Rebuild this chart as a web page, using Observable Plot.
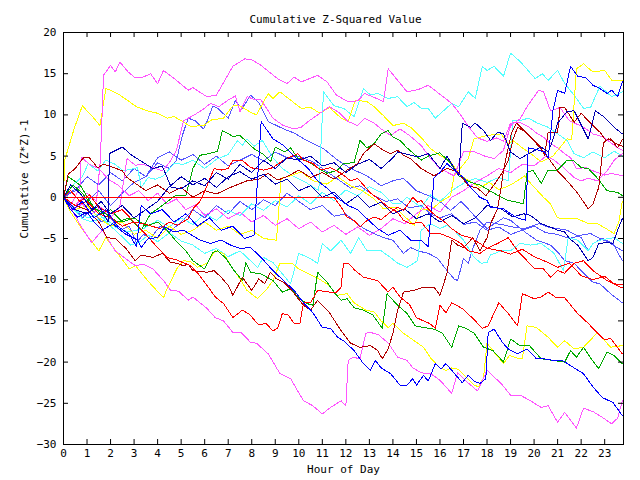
<!DOCTYPE html>
<html>
<head>
<meta charset="utf-8">
<script src="https://cdn.jsdelivr.net/npm/d3@7"></script>
<script src="https://cdn.jsdelivr.net/npm/@observablehq/plot@0.6"></script>
<style>
  html, body { margin: 0; padding: 0; background: #fff; }
  svg path { shape-rendering: crispEdges; }
</style>
</head>
<body>
<div id="chart"></div>
<script>
const title = "Cumulative Z-Squared Value";
const xLabel = "Hour of Day";
const yLabel = "Cumulative (Z*Z)-1";
const xTicks = [0,1,2,3,4,5,6,7,8,9,10,11,12,13,14,15,16,17,18,19,20,21,22,23];
const yTicks = [-30,-25,-20,-15,-10,-5,0,5,10,15,20];

// each series: [hour, cumulative value]
const magentaTop = [[0,0],[0.5,-1],[1,0.5],[1.4,-0.5],[1.55,4],[1.62,8.3],[1.7,14.8],[2,16],[2.2,15.2],[2.4,16.4],[2.75,15.2],[3.05,14.5],[3.4,14.6],[3.7,15],[4,13.8],[4.25,15.4],[4.8,14.2],[5.3,13],[5.5,13.3],[6.1,12.2],[6.5,12.4],[7.2,15.9],[7.7,16.8],[8,16.7],[8.4,16],[9.1,14.4],[9.5,13.8],[9.8,14.6],[10.1,14],[10.8,14.8],[11.2,14],[11.6,12.4],[12.1,11.6],[12.5,11.7],[12.8,12.6],[13.3,12],[13.6,11.6],[13.8,15.6],[14.2,14.2],[14.6,12.8],[15.1,13.1],[15.5,13.6],[16,12.5],[16.5,11.4],[16.9,9.9],[17.2,8.6],[17.6,7.2],[18,6.8],[18.4,7.2],[18.7,6.8],[19,9],[19.4,9.1],[19.8,8.5],[20.15,7.7],[20.4,7.3],[20.7,6.5],[21,6],[21.25,5.4],[21.55,4.8],[21.8,3.5],[22.2,3.6],[22.6,3.1],[23,2.7],[23.3,2.9],[23.75,2.6]];
const magentaMid = [[0,0],[0.4,-1.5],[0.8,-0.8],[1.2,-2],[1.6,-1.2],[2,-2.5],[2.4,-1],[2.7,4.7],[3.05,3.9],[3.4,4],[3.8,3.6],[4.2,3.2],[4.5,4.2],[4.8,5.7],[5.1,9.3],[5.5,9.9],[5.9,10.6],[6.25,11.4],[6.6,11],[7,11.8],[7.3,12.3],[7.5,10.4],[7.8,12.2],[8.1,11.9],[8.4,11.8],[8.9,9.6],[9.35,8.7],[9.8,8.3],[10.1,8.5],[10.4,9.2],[10.9,10.2],[11.3,11],[11.7,10.3],[12.1,9.2],[12.5,8.7],[12.8,9.6],[13.2,9],[13.5,8.3],[13.9,7.5],[14.3,8.3],[14.7,7.5],[15.2,6.3],[15.6,4.7],[16,3.5],[16.6,2.6],[17,5.5],[17.4,5.6],[17.9,5],[18.3,4.7],[18.7,5.7],[19,8.7],[19.4,9.5],[19.7,11],[20.2,13],[20.4,12.8],[20.7,10.5],[21.1,10.9],[21.5,9.3],[22.1,8.5],[22.5,7.7],[22.95,7.3],[23.55,6],[23.75,5.7]];
const magentaThird = [[0,0],[0.3,-1],[0.7,1.2],[0.75,4.9],[1.1,4],[1.5,3.5],[1.9,2.2],[2.3,1.5],[2.8,0.2],[3.2,0.8],[3.6,-0.4],[4,0.5],[4.4,-0.8],[4.8,-0.2],[5.2,-1.5],[5.6,-0.9],[6,-2.2],[6.5,-1.4],[7,-2.6],[7.5,-1.8],[8,-3],[8.5,-2.2],[9,-3.4],[9.5,-2.6],[10,-3.8],[10.5,-3],[11,-4.2],[11.5,-3.4],[12,-4.5],[12.5,-3.6],[13,-4.6],[13.5,-3.8],[14,-2.6],[14.5,-3.2],[15,-2],[15.5,-1],[16,-1.8],[16.5,0],[17,0.8],[17.5,1.8],[18,2.6],[18.5,3.5],[19,3],[19.5,4],[20,3.8],[20.5,5],[20.85,4.5],[21.25,3.6],[21.7,2.4],[22,2],[22.3,2.3],[22.7,2],[23.1,3.2],[23.4,4.5],[23.75,5.3]];
const magentaLow = [[0,0],[0.3,-1.2],[0.6,-2.8],[0.85,-4],[1.2,-5.5],[1.65,-4],[2.2,-6.5],[3.05,-8.3],[3.4,-8.1],[3.8,-8.7],[4.25,-10.1],[4.55,-11.3],[4.9,-11.4],[5.3,-12.5],[5.5,-12.1],[6.1,-13.5],[6.45,-14.6],[6.8,-15],[7.2,-16.4],[7.55,-16.4],[7.95,-17.6],[8.2,-17.7],[8.7,-19],[9.2,-21.4],[9.65,-22],[10.2,-24.7],[10.6,-25.3],[11,-26.3],[11.35,-25.5],[11.8,-24.7],[12,-25.3],[12.1,-19.8],[12.3,-19.4],[12.6,-19.6],[12.85,-16.5],[13.05,-16.4],[13.4,-16.7],[13.8,-17.7],[14.2,-19.4],[14.6,-19.8],[14.85,-20.7],[15.2,-21.3],[15.6,-21.4],[16,-22.2],[16.5,-23.8],[16.75,-21.3],[17.1,-22.3],[17.6,-23.5],[18,-21],[18.6,-22.6],[19,-24],[19.4,-24],[19.85,-24.7],[20.3,-25.5],[20.6,-25.3],[21,-27.3],[21.3,-26.1],[21.8,-28],[22.1,-25.6],[22.5,-26],[22.9,-26.7],[23.3,-27.5],[23.55,-26.8],[23.75,-24.7]];

const yellowTop = [[0,0],[0.05,4.5],[0.45,8.3],[0.8,11.1],[1.2,9.9],[1.55,8.7],[1.8,13.2],[2,13],[2.4,12.4],[2.7,11.8],[3.1,11],[3.55,10.5],[4,10.2],[4.4,9.6],[4.7,9.8],[5,9.3],[5.4,8.6],[5.95,8.7],[6.3,9.4],[6.8,9.6],[7.2,11.1],[7.5,11.1],[7.9,10.4],[8.2,10],[8.7,12.6],[8.9,12],[9.2,12.8],[9.65,11.8],[10.1,10.8],[10.5,10.9],[10.9,10.2],[11.3,10.9],[11.8,9.6],[12.1,9.2],[12.4,11.8],[12.9,11.6],[13.2,11],[13.6,9.9],[14,8.7],[14.45,9],[14.8,8.4],[15.25,7.1],[15.6,5.9],[16,5.1],[16.45,4.3],[16.9,2.6],[17.3,1.9],[17.7,1.2],[18.1,1.8],[18.5,0.9],[19,1.5],[19.4,2.2],[19.6,2.6],[19.85,1.7],[20.4,0],[20.7,-0.8],[21,-2.5],[21.4,-2.6],[21.85,-2.6],[22.3,-3.2],[22.7,-3.2],[23,-3.7],[23.4,-4.4],[23.6,-3],[23.75,-0.5]];
const yellowHigh = [[0,0],[0.5,-1.5],[1,-1],[1.5,-2.5],[2,-3.5],[2.5,-3],[3,-4.5],[3.5,-4],[4,-5],[4.5,-3.5],[5,-4.5],[5.5,-4],[6,-3],[6.5,-4],[7,-3.5],[7.5,-4.5],[8,-4],[8.5,-5],[9.05,-5.2],[9.25,2.3],[9.65,2.6],[10.1,3.1],[10.6,2],[11.2,1.6],[11.65,2.5],[12.2,1.4],[12.7,0.8],[13.2,-0.2],[13.6,-1.4],[14.1,-1.2],[14.6,-2.6],[14.9,-3.4],[15.2,-1.4],[15.6,-1.6],[16,-0.6],[16.45,0.2],[16.6,2.6],[17.2,4.7],[17.45,7.1],[18,7.5],[18.6,7.7],[18.9,6.5],[19.1,6.9],[19.5,6],[19.9,5.2],[20.3,4.3],[20.8,5],[21.4,7.1],[21.6,7],[21.8,15.6],[22.1,16.2],[22.5,15.2],[23,15.4],[23.3,14.2],[23.75,14.2]];
const yellowLow = [[0,0],[0.3,-1.8],[0.7,-3.5],[1.1,-5],[1.5,-6.5],[1.8,-4.9],[2.3,-6.8],[2.8,-8.7],[3.06,-8.3],[3.6,-10.2],[4.25,-12.2],[4.4,-11.1],[4.85,-8.5],[5.1,-7.7],[5.4,-7.8],[5.7,-8.5],[6.1,-8],[6.45,-6.5],[6.8,-6.8],[7.2,-8.7],[7.5,-9.9],[7.8,-11.3],[8.25,-12.3],[8.6,-11.3],[8.9,-10.1],[9.2,-8],[9.7,-8],[10,-8.7],[10.35,-9.2],[10.8,-9.8],[11.3,-10.7],[11.6,-11.9],[12.05,-11.7],[12.35,-12.8],[12.85,-13.7],[13.2,-13.9],[13.5,-15],[13.8,-15.8],[14,-15.3],[14.45,-16.5],[14.9,-17.4],[15.3,-18.2],[15.6,-19.5],[16,-20.7],[16.25,-21],[16.5,-20.7],[16.8,-20.9],[17.1,-21.8],[17.45,-22.8],[17.65,-23],[17.85,-21.9],[18,-17.7],[18.3,-18.8],[18.7,-20.2],[18.95,-19.2],[19.25,-19.5],[19.5,-19.6],[19.7,-15.6],[20.1,-15.8],[20.6,-17],[21,-18.2],[21.3,-17.4],[21.7,-18.4],[22.1,-18.2],[22.7,-16.4],[23.25,-18.2],[23.75,-18]];

const cyanHigh = [[0,0],[0.4,1.5],[0.8,2.5],[1.05,4.1],[1.45,3.2],[1.8,4.5],[2.2,4],[2.55,3.2],[3.15,3.6],[3.3,1.2],[3.6,2.4],[3.9,2.2],[4.25,2.6],[4.7,4.1],[5.1,4],[5.5,4.5],[6,3.5],[6.5,4.6],[7,5.2],[7.4,6.9],[7.6,6.3],[7.8,7.1],[8.1,6.2],[8.45,6.9],[8.9,4.8],[9.3,3.5],[9.8,2.5],[10.3,1.8],[10.85,0.8],[11.05,12.8],[11.5,11.1],[11.9,10.8],[12.35,9.8],[12.75,13.2],[13.05,12.4],[13.35,12.6],[13.8,12],[14.2,12.2],[14.6,11],[14.9,11.5],[15.2,10.8],[15.5,10.8],[15.8,9.6],[16.5,11.4],[16.8,11],[17.2,12.8],[17.5,12],[17.8,15.9],[18,15.4],[18.3,15.9],[18.7,14.7],[19,17.5],[19.4,16.5],[20.05,14.4],[20.35,15],[20.6,14.2],[21,15.4],[21.3,13.8],[21.7,12.4],[22.1,10.8],[22.4,10.9],[22.8,13.5],[23.3,12.2],[23.75,12.8]];
const cyanMid = [[0,0],[0.4,-1.3],[0.8,-2.6],[1.2,-3],[1.7,-2.4],[2.3,-3.8],[2.8,-4.2],[3.4,-3.8],[4,-2.8],[4.5,-3.6],[5,-2.5],[5.5,-3.3],[6,-2],[6.5,-2.8],[7,-1.6],[7.5,-2.2],[8,-0.8],[8.5,-1.6],[9,-0.4],[9.5,-1.2],[10,0.2],[10.5,-0.8],[11,0.6],[11.5,-0.4],[12,0.9],[12.5,0.2],[13,1.3],[13.5,0.6],[14,-0.8],[14.3,-0.8],[14.6,0],[15.2,-1.2],[15.6,0.3],[16,-0.5],[16.5,0.8],[17,1.7],[17.5,2.3],[18,1.8],[18.5,2.4],[18.9,2],[19.1,9.3],[19.4,9.3],[19.75,9.6],[20.15,9],[20.6,8.5],[21,7.7],[21.4,6.9],[21.7,5.3],[22.1,4.8],[22.5,5.5],[23,4.8],[23.4,5.6],[23.75,5]];
const cyanLow = [[0,0],[0.5,-1.5],[1,-2.5],[1.5,-2],[2,-3.5],[2.5,-4.8],[2.85,-5.8],[3.2,-5.5],[3.6,-4.6],[4,-5.4],[4.5,-4.3],[5,-5.3],[5.5,-5.8],[6,-6.8],[6.5,-6.2],[7,-7.2],[7.5,-6.5],[8.25,-8.5],[8.5,-7.3],[8.9,-7.9],[9.65,-10.5],[10,-6.8],[10.4,-7.3],[10.8,-8],[11,-5.6],[11.35,-6.5],[11.8,-5.2],[12.2,-6.8],[12.55,-4.9],[12.9,-6.5],[13.5,-6.5],[13.9,-7.3],[14.2,-8],[14.6,-8.5],[15.05,-7.7],[15.2,-4],[15.6,-3.2],[16,-3.8],[16.3,-3.4],[16.6,-4],[17,-5.2],[17.45,-7.3],[17.75,-8],[18,-7.9],[18.15,-7],[18.6,-6.5],[19,-6.5],[19.4,-5.6],[19.85,-5.8],[20.3,-5.6],[20.85,-6.8],[21.25,-8.9],[21.45,-4.9],[21.85,-5.2],[22.3,-6.5],[22.5,-5.6],[22.8,-5.2],[23.4,-4.9],[23.75,-5.6]];

const greenHigh = [[0,0],[0.2,2.5],[0.7,1.5],[1.3,-1.3],[1.8,-2],[2.3,-3],[2.8,-2.5],[3.3,-4],[3.7,-2],[4.2,-1],[4.75,0.2],[5.2,0.2],[5.5,3.5],[5.8,5.1],[6.2,5.3],[6.55,5.6],[6.75,8.1],[7.2,7.4],[7.5,7.5],[8.1,5.9],[8.5,5.2],[8.8,4.3],[9,6.1],[9.4,5.5],[9.65,6],[9.95,4.8],[10.35,4.4],[10.8,3.6],[11.2,2.9],[11.65,3.3],[11.9,4.1],[12.35,4.2],[12.6,6.9],[12.9,6],[13.2,6.5],[13.5,7.7],[13.8,8.1],[14,7.3],[14.3,6.9],[14.6,6],[15.2,4.5],[15.5,5],[16,5.4],[16.4,4.3],[16.8,2.6],[17.3,1.8],[17.7,1.5],[18,1],[18.6,0],[18.9,-0.4],[19.3,-0.6],[19.55,-0.8],[19.7,3],[19.95,3.3],[20.3,1.7],[20.6,3.3],[21,3.3],[21.4,4.5],[21.7,4.4],[22,3.6],[22.3,3.5],[22.7,2.3],[23.1,0.8],[23.55,0.6],[23.75,0.2]];
const greenLow = [[0,0],[0.4,1.5],[0.8,0.5],[1.2,-1],[1.6,-2],[2,-1.5],[2.5,-3],[3,-2.5],[3.5,-3.5],[4,-3],[4.4,-4],[4.75,-5.2],[5.2,-6.5],[5.5,-7.7],[5.8,-8.3],[6,-8.7],[6.35,-6.7],[6.55,-6.5],[6.9,-7.4],[7.2,-8.7],[7.6,-10.1],[7.75,-7.9],[7.95,-9.1],[8.4,-9.3],[8.9,-10.1],[9.3,-11.5],[9.65,-11.1],[10,-12.2],[10.35,-12.9],[10.6,-13.1],[10.8,-9.1],[11.2,-10.3],[11.55,-11.7],[11.8,-12.5],[12.05,-12.3],[12.35,-13.4],[12.75,-13.7],[13.15,-14.3],[13.55,-15.9],[13.75,-11.7],[14.2,-13.1],[14.6,-14.1],[14.95,-15.6],[15.3,-15.8],[15.75,-16],[16.1,-16.5],[16.5,-18.2],[16.8,-15.6],[17.1,-15.9],[17.45,-16.5],[17.85,-18.2],[18.25,-18.6],[18.7,-20],[19,-17.2],[19.4,-18],[19.8,-18],[20.3,-19.6],[20.8,-19.8],[21.3,-20],[21.55,-18.6],[21.8,-19.4],[22.1,-18.2],[22.4,-19.5],[22.75,-20.8],[23.1,-18.8],[23.4,-19.2],[23.75,-20.2]];

const redFlat = [[0,0],[11.5,0],[11.8,-1.2],[12.05,-2.4],[12.35,-2.8],[12.6,-3.6],[12.9,-2.8],[13.2,-2.4],[13.5,-2.7],[13.8,-2],[14.2,-1.2],[14.45,-1.6],[14.85,0],[15.05,-0.6],[15.2,-0.4],[15.5,-1.4],[15.8,-2.2],[16.2,-3],[16.5,-3.8],[16.9,-4.6],[17.3,-4.9],[17.7,-5.6],[18,-6.2],[18.45,-5.6],[18.9,-4.9],[19.3,-6.5],[19.7,-7.7],[20.05,-8.7],[20.4,-8.7],[20.7,-9.7],[21,-8.9],[21.3,-9.2],[21.7,-8],[22.1,-7.7],[22.5,-8.9],[23.1,-10.1],[23.75,-11]];
const redMid = [[0,0],[0.3,0.8],[0.7,-0.5],[1.1,0.3],[1.5,-1.2],[2,-2],[2.5,-1.5],[3,-3],[3.5,-3.3],[4.1,-3.8],[4.5,-3],[4.85,-3.4],[5.3,-2.6],[5.5,-1.4],[5.8,-0.5],[6.1,1.4],[6.4,3.5],[6.7,3.3],[7,3.5],[7.2,4.5],[7.6,4.5],[7.95,3.6],[8.5,3.3],[8.9,3.6],[9.35,4.5],[9.95,5.3],[10.2,4.5],[10.6,4.1],[10.9,3.3],[11.35,3.6],[11.8,2.9],[12.2,2],[12.5,2.3],[13.05,0.5],[13.35,-0.1],[13.8,-1.2],[14.2,-1.8],[14.45,-2.8],[14.75,-3.2],[15.2,-3],[15.6,-4.4],[16,-4.4],[16.45,-4.9],[16.9,-5.6],[17.2,-6.5],[17.7,-6.8],[18,-6.2],[18.6,-6.5],[19,-6.9],[19.5,-6.3],[20,-7.2],[20.5,-7.8],[21,-8.5],[21.5,-8],[22,-9.5],[22.5,-10],[23,-9.6],[23.4,-10.5],[23.75,-10.6]];
const redLow = [[0,0],[0.5,-1],[1,-0.5],[1.5,-2],[2,-2.5],[2.5,-3.5],[3,-3],[3.5,-4.5],[3.9,-5.8],[4.4,-7.3],[4.8,-7.6],[5.4,-8.3],[5.7,-9.2],[6.1,-10.7],[6.45,-12.1],[6.8,-12.9],[7.2,-14.6],[7.6,-13.7],[7.9,-14.2],[8.3,-15.5],[8.6,-15.3],[8.9,-16.2],[9.1,-15.9],[9.3,-14.1],[9.55,-14.3],[9.8,-15.3],[10.05,-15.3],[10.2,-12.8],[10.5,-12.8],[10.8,-11.3],[11.3,-11.5],[11.6,-11.5],[11.8,-10.9],[11.9,-8],[12.1,-8],[12.4,-8.9],[12.75,-9.7],[13.35,-10.1],[13.8,-11.5],[14,-10.9],[14.3,-12.1],[14.7,-13],[15,-14.6],[15.3,-15],[15.55,-15.3],[15.8,-15.9],[16,-13.1],[16.25,-14],[16.5,-12.8],[16.95,-13.5],[17.4,-14.7],[17.8,-15.9],[18.05,-15.6],[18.5,-12.8],[18.9,-14.1],[19.3,-15.6],[19.5,-11.7],[20,-12.3],[20.3,-12.1],[20.6,-11.5],[20.9,-12.1],[21.3,-12.2],[21.85,-14.1],[22.3,-15.3],[22.7,-16.5],[23,-17.3],[23.25,-17.1],[23.75,-19]];

const darkRedLow = [[0,0],[0.5,-1],[1,-1.5],[1.5,-3],[1.85,-4.9],[2.2,-5],[2.65,-6.2],[3.05,-7.7],[3.3,-7],[3.8,-7.3],[4.2,-6.8],[4.55,-7.9],[4.8,-8],[5.1,-8.3],[5.3,-8.1],[5.5,-8.9],[6.1,-9.1],[6.4,-8.9],[6.7,-9.7],[7,-10.7],[7.2,-11.9],[7.6,-9.7],[8,-11.3],[8.3,-9.9],[8.55,-10.5],[8.8,-9.1],[9.05,-9.9],[9.35,-10.3],[9.7,-11.3],[10.2,-13.1],[10.5,-13.7],[10.8,-12.5],[11.3,-14],[11.8,-16.2],[12.2,-17.7],[12.6,-18.2],[13.05,-18],[13.35,-18.6],[13.55,-19.6],[13.8,-18.4],[14,-16.5],[14.2,-13.7],[14.45,-11.5],[14.9,-11.3],[15.3,-10.9],[15.75,-10.9],[16,-11.9],[16.3,-9.2],[16.5,-5.2],[16.75,-5.8],[17,-6.1],[17.4,-4.9],[17.7,-6.5],[18,-4.9],[18.15,-3.2],[18.45,-1.4],[18.6,1.2],[18.7,3.3],[18.9,6],[19.05,7.9],[19.25,9],[19.5,8.3],[19.95,7.1],[20.3,6],[20.45,5.1],[20.6,7.9],[21,7.9],[21.1,10.9],[21.3,10.9],[21.7,9.1],[22,10.2],[22.4,9],[22.8,7.9],[23.05,6.9],[23.25,7.1],[23.55,6],[23.75,7]];
const darkRedMid = [[0,0],[0.2,2.8],[0.5,3.5],[0.85,4.8],[1.1,4.8],[1.45,3.6],[1.7,4],[2.15,3.6],[2.5,3.2],[2.7,2.4],[3,1.8],[3.5,0.8],[4,1.5],[4.5,0.5],[5,1.2],[5.5,0],[6,0.8],[6.5,0.4],[7.1,1.2],[7.8,2],[8.3,2.2],[8.7,2.9],[9.1,2.1],[9.5,2.5],[10,3.3],[10.5,2.4],[11,3],[11.5,2.2],[12,3.2],[12.5,4.1],[12.75,5.3],[13.2,6.5],[13.6,5.7],[13.9,5.3],[14.2,5.7],[14.45,5.1],[14.75,4.7],[15.2,3.5],[15.75,2.6],[16.3,3.5],[16.75,3.1],[17.2,1.4],[17.6,1.1],[17.95,0.2],[18.3,1.5],[18.65,3],[18.9,4.5],[19.1,7],[19.3,8.5],[19.6,8],[20.1,6.5],[20.6,4.8],[21,3.2],[21.4,2],[21.85,0.5],[22.3,-1.4],[22.5,-0.8],[22.75,1.2],[22.95,6.6],[23.15,7.1],[23.5,6.5],[23.75,6.2]];

const blueHigh = [[0,0],[0.4,-1.5],[0.8,-0.5],[1.3,-2.5],[1.8,-1.5],[2.3,-3.5],[2.8,-4.5],[3.1,-6],[3.3,-1],[3.7,-2],[4.2,-1.5],[4.7,-3],[5.2,-2],[5.7,-3.5],[6.2,-2.5],[6.7,-4],[7.2,-3.5],[7.7,-5],[8.1,-4.6],[8.4,9.2],[8.9,7.1],[9.35,6.3],[9.8,5],[10.4,3.5],[10.8,2],[11.2,1.1],[11.65,-0.1],[12.1,-1],[12.5,-1.5],[12.9,-2.6],[13.35,-3.8],[13.8,-4.6],[14.3,-4],[14.8,-5.3],[15.2,-5.2],[15.5,-6],[15.75,2.4],[16,3],[16.3,4.1],[16.6,3.3],[17,2.4],[17.3,1.2],[17.7,0],[18,-0.4],[18.15,-1.2],[18.7,-1.4],[19,-2],[19.3,-2.5],[19.65,-2.8],[19.75,6],[20.1,5.8],[20.45,5.5],[20.6,4.8],[20.8,10.5],[21,13],[21.3,12.6],[21.55,15.9],[21.85,14.7],[22.2,14.5],[22.5,13.6],[22.8,13.2],[23.1,12.6],[23.3,13],[23.55,12.2],[23.75,14]];
const blueLow = [[0,0],[0.3,-1.5],[0.6,-2.4],[1,-1.8],[1.3,-3],[1.65,-4],[2.1,-3.2],[2.6,-4.4],[3.15,-5.2],[3.3,-6.1],[3.6,-5],[4,-4.9],[4.3,-3.6],[4.7,-4.2],[5.1,-4],[5.8,-5.2],[6.25,-5.6],[6.7,-5.2],[7.1,-5.8],[7.5,-6.2],[7.95,-6.1],[8.4,-7.3],[8.9,-8.9],[9.35,-10.1],[9.8,-11.3],[10.2,-12.8],[10.6,-14],[11,-15.8],[11.35,-15.9],[11.65,-17],[11.9,-17.4],[12.35,-18.6],[12.7,-20],[13.05,-21],[13.25,-19.8],[13.5,-20.7],[13.9,-21.4],[14.3,-22.8],[14.6,-22.8],[14.85,-22],[15,-22.8],[15.3,-21.6],[15.5,-22.3],[15.8,-20.2],[16.05,-20.8],[16.25,-20.2],[16.5,-21],[16.95,-22.5],[17.2,-21.6],[17.45,-22.3],[17.7,-22.6],[17.95,-22],[18.05,-16.4],[18.3,-16],[18.65,-17.6],[18.9,-18.4],[19.3,-19],[19.7,-18.4],[20.1,-19.6],[20.4,-19.6],[20.85,-19.8],[21.2,-19.8],[21.7,-20.7],[22.1,-21.4],[22.5,-23],[22.9,-24.3],[23.35,-24.9],[23.75,-26.5]];
const navyHigh = [[0,0],[0.3,1.5],[0.7,0.5],[1.2,-1.5],[1.6,-0.5],[2,-2],[2.5,-1],[3,-2.5],[3.5,-1.5],[4,-0.5],[4.5,1.3],[5,1],[5.5,2],[6,1.4],[6.5,3],[7,2.2],[7.5,4],[8,3],[8.5,4.5],[9,3.5],[9.5,4.8],[10,4.5],[10.5,5],[11,3.8],[11.5,4.2],[12,3],[12.5,4],[13,4.6],[13.5,3.5],[14,4.8],[14.2,5.5],[14.9,5],[15.2,5],[15.5,5.3],[16,3.5],[16.3,5],[16.8,2.6],[16.95,9],[17.3,8.5],[17.5,9],[17.85,8.1],[18.15,6.9],[18.45,7.9],[18.7,7.7],[19,5.5],[19.4,4.7],[19.9,5.5],[20.3,6.1],[20.6,5.5],[20.8,7],[21,9],[21.4,10.4],[21.7,10.5],[22.3,7.1],[22.6,10.5],[23,9.7],[23.4,8.5],[23.75,7.7]];
const navyLow = [[0,0],[0.5,-1.5],[1,-2],[1.5,-1],[1.9,-3],[1.95,5.3],[2.5,6.1],[2.9,5.1],[3.35,4.3],[3.8,3.5],[4.2,3.8],[4.55,1.4],[5,2.5],[5.5,1.5],[6,2.3],[6.5,1.2],[7,2.5],[7.5,3.1],[8,2.2],[8.5,2.8],[9,1.6],[9.5,2.2],[10,0.8],[10.5,1.4],[11,0],[11.5,0.6],[12,-0.8],[12.5,0.2],[13,-1.2],[13.5,-0.6],[14,-2],[14.5,-1.4],[15,-2.6],[15.5,-2],[16,-3],[16.5,-2.2],[17,-3.2],[17.5,-2.5],[18,-1],[18.6,-1.4],[19.1,-2.4],[19.55,-2],[19.85,-2.2],[20.3,-3.2],[20.85,-3.8],[21,-4],[21.3,-4.2],[21.5,-5],[21.85,-5.8],[22.3,-7.7],[22.5,-7.3],[22.75,-5.6],[23.1,-5.5],[23.35,-5.6],[23.55,-4],[23.75,-2.6]];

const lightBlueA = [[0,0],[0.5,1],[1,-0.5],[1.5,0.8],[2,-1],[2.5,0.5],[3,1.8],[3.5,2.5],[4,4.2],[4.5,3.5],[4.8,4.5],[5.05,7.5],[5.3,9.6],[5.6,9.3],[5.95,8.3],[6.1,9.2],[6.35,11.1],[6.55,10.8],[7,9.6],[7.3,11.7],[7.6,10.8],[7.95,12.4],[8.3,11.5],[8.7,9.2],[9.35,8.3],[9.8,7.8],[10.4,6.8],[11.05,5.9],[11.65,4.5],[12.2,3.5],[12.9,2.6],[13.5,1.4],[14,2],[14.45,2.3],[15,0.8],[15.5,0.2],[16,-0.5],[16.45,-1.6],[16.9,-0.5],[17.2,-1.4],[17.45,-2.2],[18,-3.8],[18.7,-2.5],[19,-2.8],[19.3,-3.5],[19.7,-4.4],[20.1,-5.2],[20.7,-5.8],[21.05,-6.8],[21.3,-7.7],[21.7,-8],[22.1,-9.2],[22.5,-10.3],[22.8,-10.5],[23.25,-11.7],[23.75,-12.8]];
const lightBlueB = [[0,0],[0.4,-1],[0.8,-2.5],[1.2,-1.5],[1.6,-3],[2,-2.5],[2.4,-4],[2.8,-3.5],[3.1,-5.5],[3.4,-4.5],[3.7,-5],[4.1,-3.5],[4.5,-4.2],[5,-3],[5.5,-1.5],[6,-2.5],[6.5,-1],[7,-2],[7.5,-0.5],[8,-1.5],[8.5,-0.3],[9,-1],[9.5,0.5],[10,-0.5],[10.5,-1.5],[11,-1],[11.5,-2.3],[12,-2],[12.5,-3.3],[12.9,-4],[13.2,-4.4],[13.6,-4.9],[14,-5.2],[14.45,-6.8],[14.75,-6.1],[15.05,-6.5],[15.5,-6.8],[15.9,-7.4],[16.3,-8.9],[16.6,-9.9],[16.75,-10.1],[17,-7.4],[17.2,-8],[17.4,-6.2],[17.7,-4],[18,-3],[18.6,-3.3],[19.1,-3.6],[19.6,-3.8],[20.2,-3.2],[20.6,-3.6],[21,-3.8],[21.4,-4],[22,-4.9],[22.3,-6.5],[22.5,-5.6],[22.9,-5],[23.35,-5.6],[23.75,-7.7]];
const lightBlueC = [[0,0],[0.5,0.8],[1,2.5],[1.5,1.5],[2,3],[2.5,2],[3,3.5],[3.5,2.5],[4,4.8],[4.5,5.5],[5,4.5],[5.5,5.2],[6,4],[6.5,5],[7,3.8],[7.5,4.5],[8,5.2],[8.5,4.4],[9,5.5],[9.5,4.8],[10,5],[10.6,4.3],[11.2,3.1],[11.8,1.9],[12.2,1.1],[12.6,1.4],[13.2,0.2],[13.7,-0.5],[14.2,-0.2],[14.7,-1.3],[15.2,-1],[15.6,-2],[16,-2.5],[16.5,-2],[17,-3.3],[17.5,-3],[18,-4],[18.5,-3.6],[19,-4.5],[19.5,-4],[20,-3.5],[20.5,-4.3],[21,-4.5],[21.5,-5],[22,-4.6],[22.4,-4.4],[22.8,-5],[23.2,-5.5],[23.75,-6.5]];

const series = [
  {data: lightBlueA, color: "#5555ff"},
  {data: lightBlueB, color: "#5555ff"},
  {data: lightBlueC, color: "#5555ff"},
  {data: cyanHigh, color: "#55ffff"},
  {data: cyanMid, color: "#55ffff"},
  {data: cyanLow, color: "#55ffff"},
  {data: yellowTop, color: "#ffff00"},
  {data: yellowHigh, color: "#ffff00"},
  {data: yellowLow, color: "#ffff00"},
  {data: magentaTop, color: "#ff55ff"},
  {data: magentaMid, color: "#ff55ff"},
  {data: magentaThird, color: "#ff55ff"},
  {data: magentaLow, color: "#ff55ff"},
  {data: greenHigh, color: "#00aa00"},
  {data: greenLow, color: "#00aa00"},
  {data: darkRedLow, color: "#b00000"},
  {data: darkRedMid, color: "#b00000"},
  {data: redMid, color: "#ff0000"},
  {data: redLow, color: "#ff0000"},
  {data: navyHigh, color: "#0000b0"},
  {data: navyLow, color: "#0000b0"},
  {data: blueLow, color: "#0000ff"},
  {data: blueHigh, color: "#0000ff"},
  {data: redFlat, color: "#ff0000"}
];

const font = "DejaVu Sans Mono";
const marks = [];
for (const s of series) {
  marks.push(Plot.line(s.data, {x: d => d[0], y: d => d[1], stroke: s.color, strokeWidth: 1, curve: "linear"}));
}
marks.push(Plot.frame({stroke: "black", strokeWidth: 1}));
marks.push(Plot.tickY(yTicks, {y: d => d, insetRight: 555, stroke: "black"}));
marks.push(Plot.tickY(yTicks, {y: d => d, insetLeft: 555, stroke: "black"}));
marks.push(Plot.tickX(xTicks, {x: d => d, insetTop: 407, stroke: "black"}));
marks.push(Plot.tickX(xTicks, {x: d => d, insetBottom: 407, stroke: "black"}));
marks.push(Plot.axisY(yTicks, {anchor: "left", tickSize: 0, tickPadding: 7, label: null, fontSize: 11}));
marks.push(Plot.axisX(xTicks, {anchor: "bottom", tickSize: 0, tickPadding: 5, label: null, fontSize: 11}));
marks.push(Plot.text([title], {frameAnchor: "top", dy: -17, dx: -8, text: d => d, fontSize: 11, fill: "black"}));
marks.push(Plot.text([xLabel], {frameAnchor: "bottom", dy: 28, text: d => d, fontSize: 11, fill: "black"}));
marks.push(Plot.text([yLabel], {frameAnchor: "left", dx: -39, rotate: -90, text: d => d, fontSize: 11, fill: "black"}));

const chart = Plot.plot({
  width: 640,
  height: 480,
  marginLeft: 63,
  marginRight: 17,
  marginTop: 32,
  marginBottom: 36,
  style: {fontFamily: font, fontSize: "11px", background: "white", color: "black"},
  x: {domain: [0, 23.8], axis: null},
  y: {domain: [-30, 20], axis: null},
  marks
});
document.getElementById("chart").appendChild(chart);
</script>
</body>
</html>
